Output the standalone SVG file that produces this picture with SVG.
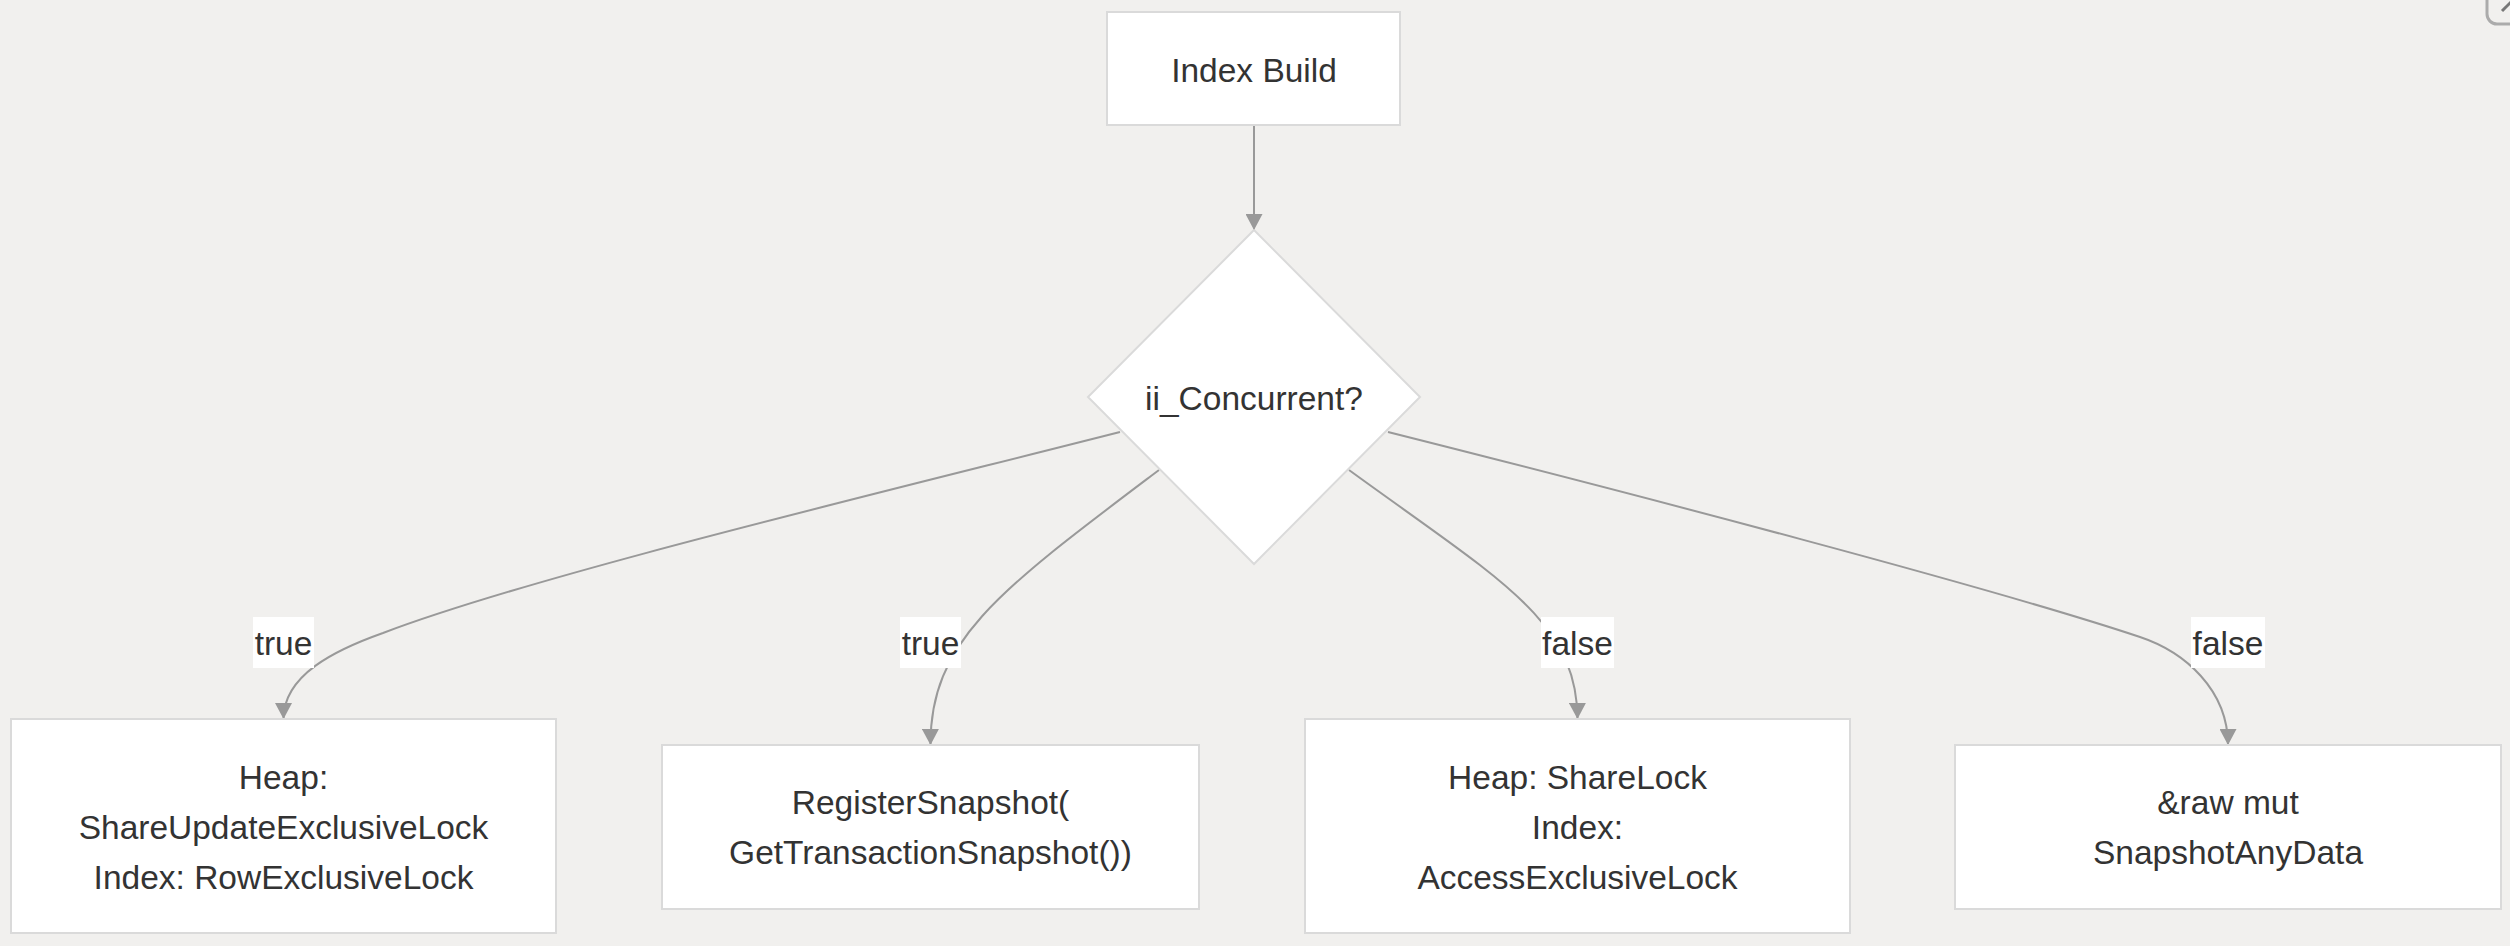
<svg xmlns="http://www.w3.org/2000/svg" width="2510" height="946" viewBox="0 0 2510 946">
  <defs>
    <marker id="arrow" viewBox="0 0 16 17" refX="16" refY="8.5" markerWidth="16" markerHeight="17" markerUnits="userSpaceOnUse" orient="auto">
      <path d="M0,0 L16,8.5 L0,17 z" fill="#999999"/>
    </marker>
    <style>
      .node { fill: #ffffff; stroke: #dadada; stroke-width: 2; }
      .txt { font-family: "Liberation Sans", Arial, sans-serif; font-size: 33.5px; fill: #333333; text-anchor: middle; }
      .edge { fill: none; stroke: #999999; stroke-width: 2; marker-end: url(#arrow); }
      .lbl { fill: #ffffff; stroke: none; }
    </style>
  </defs>
  <rect x="0" y="0" width="2510" height="946" fill="#f1f0ee"/>

  <g id="connectors">
    <path class="edge" d="M1254,125 L1254,230"/>
    <path class="edge" d="M1120,432 C870,495.5 533,576 383,633 C335,650 283.5,675 283.5,719"/>
    <path class="edge" d="M1159,470 C1000,590 930,640 930.5,745"/>
    <path class="edge" d="M1349,470 C1500,580 1577,620 1577.5,719"/>
    <path class="edge" d="M1388,432 C1638,495 1990,587 2140,637 C2185,652 2228,690 2228,745"/>
  </g>

  <g id="edge-labels">
    <g id="label-true-1">
      <rect class="lbl" x="253" y="617" width="61" height="51"/>
      <text class="txt" x="283.5" y="655">true</text>
    </g>
    <g id="label-true-2">
      <rect class="lbl" x="900" y="617" width="61" height="51"/>
      <text class="txt" x="930.5" y="655">true</text>
    </g>
    <g id="label-false-1">
      <rect class="lbl" x="1541" y="617" width="73" height="51"/>
      <text class="txt" x="1577.5" y="655">false</text>
    </g>
    <g id="label-false-2">
      <rect class="lbl" x="2191" y="617" width="74" height="51"/>
      <text class="txt" x="2228" y="655">false</text>
    </g>
  </g>

  <g id="node-index-build">
    <rect class="node" x="1107" y="12" width="293" height="113"/>
    <text class="txt" x="1254" y="81.5">Index Build</text>
  </g>

  <g id="node-concurrent">
    <polygon class="node" points="1254,230 1420,397 1254,564 1088,397"/>
    <text class="txt" x="1254" y="410">ii_Concurrent?</text>
  </g>

  <g id="node-heap-share-update">
    <rect class="node" x="11" y="719" width="545" height="214"/>
    <text class="txt" x="283.5" y="789">Heap:</text>
    <text class="txt" x="283.5" y="839">ShareUpdateExclusiveLock</text>
    <text class="txt" x="283.5" y="889">Index: RowExclusiveLock</text>
  </g>

  <g id="node-register-snapshot">
    <rect class="node" x="662" y="745" width="537" height="164"/>
    <text class="txt" x="930.5" y="814">RegisterSnapshot(</text>
    <text class="txt" x="930.5" y="864">GetTransactionSnapshot())</text>
  </g>

  <g id="node-heap-sharelock">
    <rect class="node" x="1305" y="719" width="545" height="214"/>
    <text class="txt" x="1577.5" y="789">Heap: ShareLock</text>
    <text class="txt" x="1577.5" y="839">Index:</text>
    <text class="txt" x="1577.5" y="889">AccessExclusiveLock</text>
  </g>

  <g id="node-snapshot-any">
    <rect class="node" x="1955" y="745" width="546" height="164"/>
    <text class="txt" x="2228" y="814">&amp;raw mut</text>
    <text class="txt" x="2228" y="864">SnapshotAnyData</text>
  </g>

  <g id="corner-icon">
    <rect x="2487" y="-20" width="44" height="44" rx="10" fill="none" stroke="#ababab" stroke-width="3"/>
    <line x1="2502" y1="11" x2="2514" y2="-1" stroke="#777777" stroke-width="3"/>
  </g>
</svg>
